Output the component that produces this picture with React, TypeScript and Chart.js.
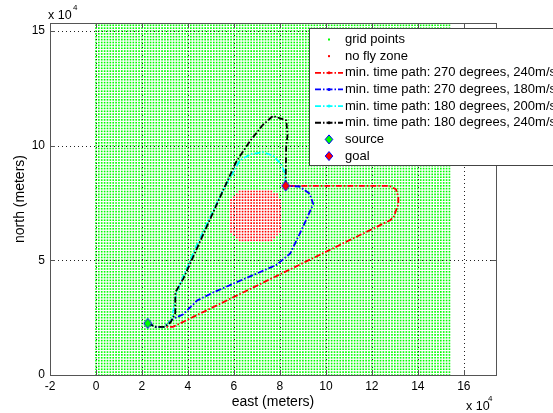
import React, { useEffect, useRef } from "react";
import { Chart, registerables } from "chart.js";

Chart.register(...registerables);

// ---- axes (units of 10^4 m) ----
const X_MIN = -2;
const X_MAX = 17.4;
const Y_MIN = 0;
const Y_MAX = 15.35;
const xTickValues = [-2, 0, 2, 4, 6, 8, 10, 12, 14, 16];
const yTickValues = [0, 5, 10, 15];

// ---- grid of candidate points ----
const gridStep = 0.125;
const gridCount = 124;
const zoneCenter = [6.95, 6.95];
const zoneRadius = 1.17;
const zoneShapePower = 3;

// ---- endpoints ----
const sourceXY = [2.25, 2.25];
const goalXY = [8.25, 8.25];

// ---- paths ----
const path270_240_x = [2.25, 2.6, 3.0, 3.35, 12.8, 12.95, 13.15, 13.15, 13.05, 12.75, 8.25];
const path270_240_y = [2.25, 2.1, 2.1, 2.1, 6.75, 6.9, 7.45, 7.75, 8.1, 8.25, 8.25];

const path270_180_x = [2.25, 2.6, 2.95, 3.35, 3.8, 4.4, 5.1, 7.85, 8.45, 9.0, 9.45, 9.3, 8.85, 8.25];
const path270_180_y = [2.25, 2.1, 2.1, 2.45, 2.65, 3.25, 3.6, 4.8, 5.3, 6.45, 7.45, 7.9, 8.22, 8.25];

const path180_200_x = [2.25, 2.6, 3.0, 3.3, 3.5, 4.4, 5.55, 6.25, 6.7, 7.25, 7.7, 8.05, 8.22, 8.25];
const path180_200_y = [2.25, 2.1, 2.1, 2.4, 3.6, 5.7, 8.1, 9.35, 9.62, 9.72, 9.57, 9.2, 8.8, 8.25];

const path180_240_x = [2.25, 2.6, 3.0, 3.25, 3.45, 3.45, 3.8, 5.1, 6.1, 6.7, 7.25, 7.7, 8.28, 8.33, 8.27, 8.25];
const path180_240_y = [2.25, 2.1, 2.1, 2.3, 2.7, 3.6, 4.2, 7.1, 9.3, 10.2, 10.9, 11.3, 11.1, 10.45, 9.9, 8.25];

const seriesNames = [
  "grid points",
  "no fly zone",
  "min. time path: 270 degrees, 240m/s",
  "min. time path: 270 degrees, 180m/s",
  "min. time path: 180 degrees, 200m/s",
  "min. time path: 180 degrees, 240m/s",
  "source",
  "goal",
];
const pathColors = ["#ff0000", "#0000ff", "#00ffff", "#000000"];
const DASH = [6, 2, 1.5, 2];
const FONT = '"Liberation Sans", Arial, sans-serif';

function zip(xs: number[], ys: number[]) {
  return xs.map((x, i) => ({ x, y: ys[i] }));
}

function buildGrid() {
  const free: { x: number; y: number }[] = [];
  const zone: { x: number; y: number }[] = [];
  const rp = Math.pow(zoneRadius, zoneShapePower);
  for (let i = 0; i < gridCount; i++) {
    for (let j = 0; j < gridCount; j++) {
      const x = i * gridStep;
      const y = j * gridStep;
      const dx = Math.abs(x - zoneCenter[0]);
      const dy = Math.abs(y - zoneCenter[1]);
      if (dx ** zoneShapePower + dy ** zoneShapePower <= rp) zone.push({ x, y });
      else free.push({ x, y });
    }
  }
  return { free, zone };
}

function makeDiamond(fill: string) {
  const c = document.createElement("canvas");
  c.width = 10;
  c.height = 12;
  const g = c.getContext("2d")!;
  g.beginPath();
  g.moveTo(5, 1);
  g.lineTo(9, 6);
  g.lineTo(5, 11);
  g.lineTo(1, 6);
  g.closePath();
  g.fillStyle = fill;
  g.fill();
  g.strokeStyle = "#0000ff";
  g.lineWidth = 1;
  g.stroke();
  return c;
}

function drawDiamond(ctx: CanvasRenderingContext2D, cx: number, cy: number, fill: string) {
  ctx.beginPath();
  ctx.moveTo(cx, cy - 4.5);
  ctx.lineTo(cx + 3.8, cy);
  ctx.lineTo(cx, cy + 4.5);
  ctx.lineTo(cx - 3.8, cy);
  ctx.closePath();
  ctx.fillStyle = fill;
  ctx.fill();
  ctx.strokeStyle = "#0000ff";
  ctx.lineWidth = 1;
  ctx.stroke();
}

const decorPlugin = {
  id: "decor",
  afterDatasetDraw(chart: any, args: any) {
    if (args.index !== 1) return;
    const { ctx, chartArea } = chart;
    const { left, right, top, bottom } = chartArea;
    const xs = chart.scales.x;
    const ys = chart.scales.y;
    ctx.save();
    ctx.strokeStyle = "#222";
    ctx.lineWidth = 1;
    ctx.setLineDash([1, 3]);
    xTickValues.forEach((v) => {
      const px = Math.round(xs.getPixelForValue(v)) + 0.5;
      ctx.beginPath();
      ctx.moveTo(px, top);
      ctx.lineTo(px, bottom);
      ctx.stroke();
    });
    yTickValues.forEach((v) => {
      const py = Math.round(ys.getPixelForValue(v)) + 0.5;
      ctx.beginPath();
      ctx.moveTo(left, py);
      ctx.lineTo(right, py);
      ctx.stroke();
    });
    ctx.restore();
  },
  afterDraw(chart: any) {
    const { ctx, chartArea } = chart;
    const { left, right, top, bottom } = chartArea;
    const xs = chart.scales.x;
    const ys = chart.scales.y;
    ctx.save();
    // frame
    ctx.strokeStyle = "#555";
    ctx.lineWidth = 1;
    ctx.setLineDash([]);
    ctx.strokeRect(Math.round(left) + 0.5, Math.round(top) + 0.5, Math.round(right - left), Math.round(bottom - top));
    // tick marks
    const tl = 5;
    xTickValues.forEach((v) => {
      const px = Math.round(xs.getPixelForValue(v)) + 0.5;
      ctx.beginPath();
      ctx.moveTo(px, bottom);
      ctx.lineTo(px, bottom - tl);
      ctx.moveTo(px, top);
      ctx.lineTo(px, top + tl);
      ctx.stroke();
    });
    yTickValues.forEach((v) => {
      const py = Math.round(ys.getPixelForValue(v)) + 0.5;
      ctx.beginPath();
      ctx.moveTo(left, py);
      ctx.lineTo(left + tl, py);
      ctx.moveTo(right, py);
      ctx.lineTo(right - tl, py);
      ctx.stroke();
    });

    // legend
    const lx = 309.5;
    const ly = 28.5;
    ctx.fillStyle = "#ffffff";
    ctx.fillRect(lx, ly, 260, 137);
    ctx.strokeStyle = "#444";
    ctx.strokeRect(lx, ly, 260, 137);
    ctx.font = `13px ${FONT}`;
    ctx.textBaseline = "middle";
    ctx.textAlign = "left";
    seriesNames.forEach((name, i) => {
      const cy = 39.5 + i * 16.65;
      const sx = 329;
      if (i === 0 || i === 1) {
        ctx.fillStyle = i === 0 ? "#00ff00" : "#ff0000";
        ctx.fillRect(sx - 1, cy - 1, 2, 2);
      } else if (i >= 2 && i <= 5) {
        const col = pathColors[i - 2];
        ctx.strokeStyle = col;
        ctx.lineWidth = 1.8;
        ctx.setLineDash(DASH);
        ctx.beginPath();
        ctx.moveTo(315, cy);
        ctx.lineTo(343, cy);
        ctx.stroke();
        ctx.setLineDash([]);
        ctx.fillStyle = col;
        ctx.beginPath();
        ctx.arc(sx, cy, 1.5, 0, Math.PI * 2);
        ctx.fill();
      } else {
        drawDiamond(ctx, sx, cy, i === 6 ? "#00ff00" : "#ff0000");
      }
      ctx.fillStyle = "#000";
      ctx.fillText(name, 345, cy);
    });

    // axis titles
    ctx.fillStyle = "#000";
    ctx.font = `14px ${FONT}`;
    ctx.textAlign = "center";
    ctx.textBaseline = "middle";
    ctx.fillText("east (meters)", (left + right) / 2, 402);
    ctx.save();
    ctx.translate(20, (top + bottom) / 2);
    ctx.rotate(-Math.PI / 2);
    ctx.fillText("north (meters)", 0, 0);
    ctx.restore();

    // exponent labels
    ctx.textAlign = "left";
    ctx.textBaseline = "alphabetic";
    ctx.font = `12.5px ${FONT}`;
    ctx.fillText("x 10", 48, 18.5);
    ctx.fillText("x 10", 466, 410);
    ctx.font = `8px ${FONT}`;
    ctx.fillText("4", 73, 10);
    ctx.fillText("4", 488, 401);
    ctx.restore();
  },
};

export default function App() {
  const ref = useRef<HTMLCanvasElement | null>(null);
  useEffect(() => {
    if (!ref.current) return;
    const { free, zone } = buildGrid();
    const pathXs = [path270_240_x, path270_180_x, path180_200_x, path180_240_x];
    const pathYs = [path270_240_y, path270_180_y, path180_200_y, path180_240_y];
    const pathOrders = [6, 5, 4, 3];
    const pathSets = pathXs.map((xs, k) => ({
      label: seriesNames[k + 2],
      data: zip(xs, pathYs[k]),
      showLine: true,
      borderColor: pathColors[k],
      backgroundColor: pathColors[k],
      borderWidth: 1.8,
      borderDash: DASH,
      pointRadius: 0,
      order: pathOrders[k],
    }));
    const chart = new Chart(ref.current, {
      type: "scatter",
      data: {
        datasets: [
          {
            label: seriesNames[0],
            data: free,
            pointStyle: "rect",
            pointRadius: 1.15,
            pointBorderWidth: 0,
            pointBackgroundColor: "#00ff00",
            order: 10,
          },
          {
            label: seriesNames[1],
            data: zone,
            pointStyle: "rect",
            pointRadius: 1.15,
            pointBorderWidth: 0,
            pointBackgroundColor: "#ff0000",
            order: 9,
          },
          ...pathSets,
          {
            label: seriesNames[6],
            data: [{ x: sourceXY[0], y: sourceXY[1] }],
            pointStyle: makeDiamond("#00ff00"),
            order: 2,
          },
          {
            label: seriesNames[7],
            data: [{ x: goalXY[0], y: goalXY[1] }],
            pointStyle: makeDiamond("#ff0000"),
            order: 1,
          },
        ] as any,
      },
      options: {
        animation: false,
        responsive: false,
        events: [],
        layout: { padding: { top: 23, right: 57, left: 0, bottom: 0 } },
        plugins: { legend: { display: false }, tooltip: { enabled: false } },
        scales: {
          x: {
            type: "linear",
            min: X_MIN,
            max: X_MAX,
            grid: { display: false, drawTicks: false },
            border: { display: false },
            afterBuildTicks: (s: any) => {
              s.ticks = xTickValues.map((v) => ({ value: v }));
            },
            afterFit: (s: any) => {
              s.height = 38;
            },
            ticks: {
              autoSkip: false,
              maxRotation: 0,
              padding: 4,
              color: "#000",
              font: { family: FONT, size: 12 },
              callback: (v: any) => String(v),
            },
          },
          y: {
            type: "linear",
            min: Y_MIN,
            max: Y_MAX,
            grid: { display: false, drawTicks: false },
            border: { display: false },
            afterBuildTicks: (s: any) => {
              s.ticks = yTickValues.map((v) => ({ value: v }));
            },
            afterFit: (s: any) => {
              s.width = 50;
            },
            ticks: {
              padding: 5,
              color: "#000",
              font: { family: FONT, size: 12 },
              callback: (v: any) => String(v),
            },
          },
        },
      },
      plugins: [decorPlugin],
    } as any);
    return () => chart.destroy();
  }, []);
  return (
    <div style={{ position: "fixed", left: 0, top: 0, width: 553, height: 413, background: "#fff" }}>
      <canvas ref={ref} width={553} height={413} style={{ width: 553, height: 413, display: "block" }} />
    </div>
  );
}
